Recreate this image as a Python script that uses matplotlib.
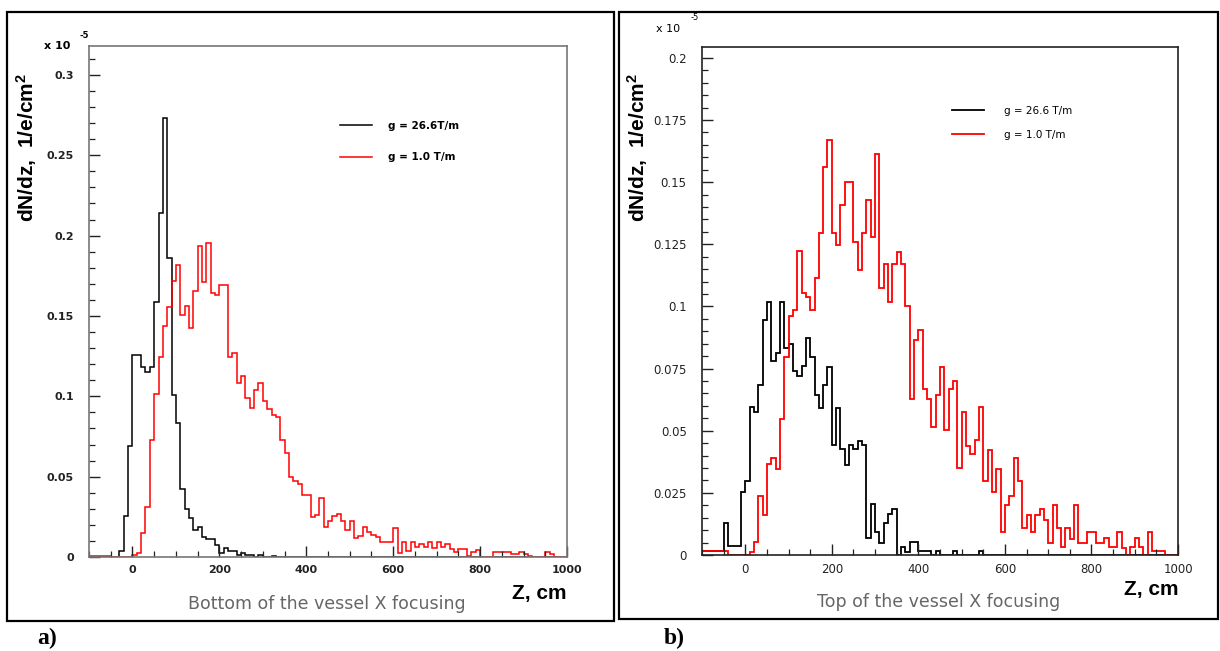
import numpy as np
import matplotlib
matplotlib.use('Agg')
import matplotlib.pyplot as plt
from matplotlib.patches import Rectangle
from matplotlib.ticker import MultipleLocator, FixedLocator

plt.rcParams['font.family'] = ['Liberation Sans', 'DejaVu Sans']
plt.rcParams['mathtext.fontset'] = 'custom'
plt.rcParams['mathtext.rm'] = 'Liberation Sans'
plt.rcParams['mathtext.bf'] = 'Liberation Sans:bold'

# 10 cm bins from -100 to 1000 cm, dN/dz in units of 1e-5 1/e/cm^2
z_edges = np.arange(-100, 1001, 10)

# a) bottom of the vessel
bottom_g266 = [0, 0, 0, 0, 0, 0, 0, 0.0035, 0.0256, 0.0693,
               0.1254, 0.1254, 0.118, 0.1150, 0.1180, 0.159, 0.214, 0.273, 0.186, 0.101,
               0.0835, 0.0423, 0.0298, 0.0241, 0.0168, 0.0189, 0.0123, 0.011, 0.011, 0.0075,
               0.0023, 0.0054, 0.004, 0.004, 0.0013, 0.0025, 0.0015, 0.001, 0, 0.001,
               0, 0, 0.0008] + [0] * 67
bottom_g10 = [0.0008, 0.0008, 0.0005, 0.0008, 0.0008, 0, 0, 0, 0, 0,
              0.0012, 0.0027, 0.0148, 0.031, 0.0726, 0.1017, 0.1244, 0.1437, 0.1558, 0.1718,
              0.1818, 0.1504, 0.1562, 0.1427, 0.1656, 0.1936, 0.1712, 0.1953, 0.1645, 0.1629,
              0.1691, 0.1691, 0.1244, 0.1267, 0.1084, 0.1129, 0.099, 0.0925, 0.104, 0.108,
              0.097, 0.092, 0.0885, 0.087, 0.073, 0.065, 0.050, 0.0476, 0.0455, 0.0387,
              0.0387, 0.0252, 0.0262, 0.0366, 0.0189, 0.0227, 0.0256, 0.0266, 0.0227, 0.0168,
              0.0227, 0.0116, 0.0131, 0.0189, 0.0154, 0.0137, 0.0123, 0.0092, 0.0092, 0.0092,
              0.0179, 0.0023, 0.0092, 0.004, 0.0092, 0.0064, 0.0081, 0.0064, 0.0092, 0.0054,
              0.0092, 0.0064, 0.0081, 0.005, 0.0033, 0.005, 0.005, 0.0008, 0.0033, 0.0044,
              0, 0, 0, 0.003, 0.003, 0.003, 0.003, 0.002, 0.002, 0.0033,
              0.0017, 0.0008, 0, 0, 0, 0.003, 0.002, 0, 0, 0]

# b) top of the vessel
top_g266 = [0.0015, 0.0015, 0.0015, 0.0015, 0.0015, 0.0128, 0.0036, 0.0036, 0.0036, 0.0255,
            0.0298, 0.0594, 0.0574, 0.0685, 0.0945, 0.1019, 0.0780, 0.0813, 0.1019, 0.0833,
            0.0847, 0.0739, 0.0719, 0.0759, 0.0872, 0.0798, 0.0645, 0.0591, 0.0683, 0.0757,
            0.0444, 0.0591, 0.0426, 0.0363, 0.0444, 0.0426, 0.0460, 0.0444, 0.0067, 0.0204,
            0.0091, 0.0050, 0.0128, 0.0163, 0.0186, 0, 0.0034, 0.0013, 0.0051, 0.0051,
            0.0016, 0.0016, 0.0016, 0, 0.0016, 0, 0, 0, 0.0016, 0,
            0, 0, 0, 0, 0.0016] + [0] * 45
top_g10 = [0.0015, 0.0015, 0.0015, 0.0015, 0.0015, 0.0015, 0, 0, 0, 0,
           0, 0.0013, 0.0054, 0.0238, 0.0161, 0.0366, 0.0390, 0.0347, 0.0548, 0.0796,
           0.0961, 0.0984, 0.1223, 0.1055, 0.1038, 0.0984, 0.1113, 0.1297, 0.1562, 0.1671,
           0.1297, 0.1247, 0.1409, 0.1501, 0.1501, 0.1261, 0.1145, 0.1297, 0.1427, 0.1281,
           0.1613, 0.1075, 0.1169, 0.1019, 0.1169, 0.1220, 0.1169, 0.1001, 0.0628, 0.0867,
           0.0907, 0.0668, 0.0628, 0.0517, 0.0645, 0.0755, 0.0501, 0.0668, 0.0702, 0.0349,
           0.0575, 0.0439, 0.0407, 0.0461, 0.0594, 0.0296, 0.0423, 0.0255, 0.0345, 0.0091,
           0.0202, 0.0238, 0.0390, 0.0296, 0.0108, 0.0161, 0.0091, 0.0161, 0.0184, 0.0141,
           0.0050, 0.0202, 0.0108, 0.0031, 0.0108, 0.0065, 0.0202, 0.0050, 0.0050, 0.0091,
           0.0091, 0.0050, 0.0050, 0.0067, 0.0031, 0.0031, 0.0091, 0.0027, 0, 0.0031,
           0.0067, 0.0031, 0, 0.0091, 0.0017, 0.0017, 0.0017, 0, 0, 0]

x_ticks = [0, 200, 400, 600, 800, 1000]

W, H = 1220, 651
fig = plt.figure(figsize=(W / 100, H / 100), dpi=100)


def fx(px):
    return px / W


def fy(py):
    return 1 - py / H


def frame(x0, y0, x1, y1):
    fig.patches.append(Rectangle((fx(x0), fy(y1)), fx(x1) - fx(x0), fy(y0) - fy(y1),
                                 transform=fig.transFigure, fill=False,
                                 edgecolor='black', lw=1.6))


def panel(box, ymax, yticks, yminor, black, red, labels, spine_col, lw, bold,
          leg_pos, leg_pad, leg_gap, caption, tag, off):
    x0, y0, x1, y1 = box
    ax = fig.add_axes([fx(x0), fy(y1), fx(x1) - fx(x0), fy(y0) - fy(y1)])
    ax.stairs(black, z_edges, color='black', lw=lw, label=labels[0])
    ax.stairs(red, z_edges, color='red', lw=lw, label=labels[1])
    ax.set_xlim(-100, 1000)
    ax.set_ylim(0, ymax)
    for s in ax.spines.values():
        s.set_color(spine_col)
        s.set_linewidth(1.2)
    ax.xaxis.set_major_locator(FixedLocator(x_ticks))
    ax.xaxis.set_minor_locator(MultipleLocator(50))
    ax.yaxis.set_major_locator(FixedLocator(yticks))
    ax.yaxis.set_minor_locator(MultipleLocator(yminor))
    ax.set_yticklabels([('%g' % v) for v in yticks])
    weight = 'bold' if bold else 'normal'
    ax.tick_params(which='both', direction='in', top=False, right=False,
                   colors='#222222', labelsize=8.5 if not bold else 8)
    ax.tick_params(which='major', length=8, width=1.0)
    ax.tick_params(which='minor', length=4, width=0.9)
    ax.tick_params(axis='y', pad=11)
    ax.tick_params(axis='x', pad=6)
    for t in ax.get_xticklabels() + ax.get_yticklabels():
        t.set_fontweight(weight)
        t.set_family('DejaVu Sans')

    ax.legend(loc='upper left', bbox_to_anchor=(fx(leg_pos[0]), fy(leg_pos[1])),
              bbox_transform=fig.transFigure, frameon=False,
              prop={'family': 'DejaVu Sans', 'size': 7.5, 'weight': weight},
              handlelength=3.1, handletextpad=leg_pad, labelspacing=leg_gap,
              borderpad=0, borderaxespad=0)

    fig.text(fx(off[0]), fy(off[1]), 'dN/dz,  1/e/cm$\\mathbf{^2}$', rotation=90,
             ha='center', va='center', fontsize=15, fontweight='bold')
    fig.text(fx(off[2]), fy(off[3]), 'x 10', fontsize=8, ha='left', va='center',
             fontweight=weight, family='DejaVu Sans')
    fig.text(fx(off[2] + 35), fy(off[3] - 11), '-5', fontsize=6, ha='left',
             va='center', fontweight=weight, family='DejaVu Sans')
    fig.text(fx(x1), fy(off[4]), 'Z, cm', fontsize=15, fontweight='bold',
             ha='right', va='center')
    fig.text(fx(off[5]), fy(off[6]), caption, family='DejaVu Sans', fontsize=12.5,
             color='#666666', ha='left', va='center')
    fig.text(fx(off[7]), fy(638), tag, family='Liberation Serif', fontsize=17,
             fontweight='bold', ha='left', va='center')
    return ax


frame(7, 12, 614, 621)
frame(619, 12, 1218, 619)

panel((89, 46, 567, 557), 0.318, [0, 0.05, 0.1, 0.15, 0.2, 0.25, 0.3], 0.01,
      bottom_g266, bottom_g10, ['g = 26.6T/m', 'g = 1.0 T/m'], '#777777', 1.1, True,
      (340, 121), 1.5, 2.05, 'Bottom of the vessel X focusing', 'a)',
      (27, 148, 44, 46, 593, 188, 604, 37))

panel((702, 47, 1178, 555), 0.2044, [0, 0.025, 0.05, 0.075, 0.1, 0.125, 0.15, 0.175, 0.2],
      0.005, top_g266, top_g10, ['g = 26.6 T/m', 'g = 1.0 T/m'], '#222222', 1.3, False,
      (952, 106), 1.9, 1.35, 'Top of the vessel X focusing', 'b)',
      (638, 148, 656, 29, 590, 817, 602, 664))

fig.savefig('out.png', dpi=100)
